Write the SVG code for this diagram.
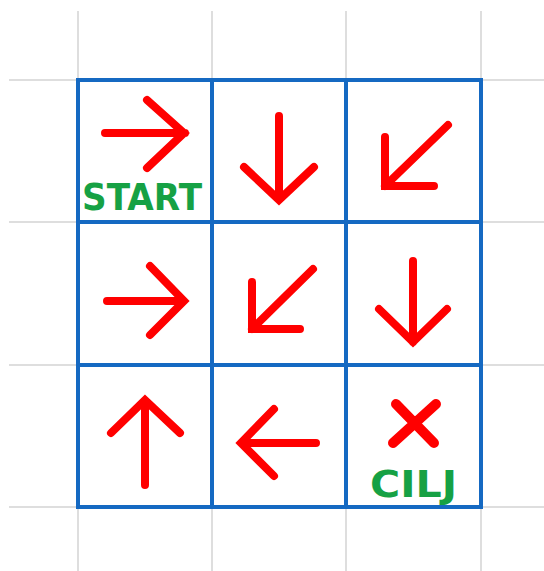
<svg xmlns="http://www.w3.org/2000/svg" width="544" height="571" viewBox="0 0 544 571">
<style>
.g{stroke:#dedede;stroke-width:2;fill:none}
.b{stroke:#1569c2;stroke-width:4;fill:none;stroke-linecap:square}
.a{stroke:#ff0000;stroke-width:8;fill:none;stroke-linecap:round;stroke-linejoin:miter}
.x{stroke:#ff0000;stroke-width:10;fill:none;stroke-linecap:round}
.t{fill:#16a144;font-family:"DejaVu Sans","Liberation Sans",sans-serif;font-weight:bold;font-size:37px}
</style>
<rect width="544" height="571" fill="#ffffff"/>
<g id="background-grid">
<path class="g" d="M78 11V571M212 11V571M346 11V571M481 11V571M9 80H544M9 222H544M9 365H544M9 507H544"/>
</g>
<g id="board">
<path class="b" d="M78 80H481V507H78ZM212 80V507M346 80V507M78 222H481M78 365H481"/>
</g>
<g id="connectors">
<g id="c00"><path class="a" d="M105 133H185M147 100L184 133L147 168"/></g>
<g id="c10"><path class="a" d="M279 116V199M244 167L279 200L314 167"/></g>
<g id="c20"><path class="a" d="M448 125L385 186M385 137V186H434"/></g>
<g id="c01"><path class="a" d="M107 301H183M150 266L184 301L150 335"/></g>
<g id="c11"><path class="a" d="M313 269L252 329M252 282V329H300"/></g>
<g id="c21"><path class="a" d="M413 261V342M379 309L413 342L447 309"/></g>
<g id="c02"><path class="a" d="M145 485V401M111 433L145 400L180 433"/></g>
<g id="c12"><path class="a" d="M316 443H242M274 409L241 443L274 476"/></g>
</g>
<g id="start"><text class="t" x="82" y="210" textLength="120" lengthAdjust="spacingAndGlyphs">START</text></g>
<g id="goal">
<path class="x" d="M396 404L434 443M436 404L393 443"/>
<text class="t" x="370" y="497" textLength="87" lengthAdjust="spacingAndGlyphs">CILJ</text>
</g>
</svg>
